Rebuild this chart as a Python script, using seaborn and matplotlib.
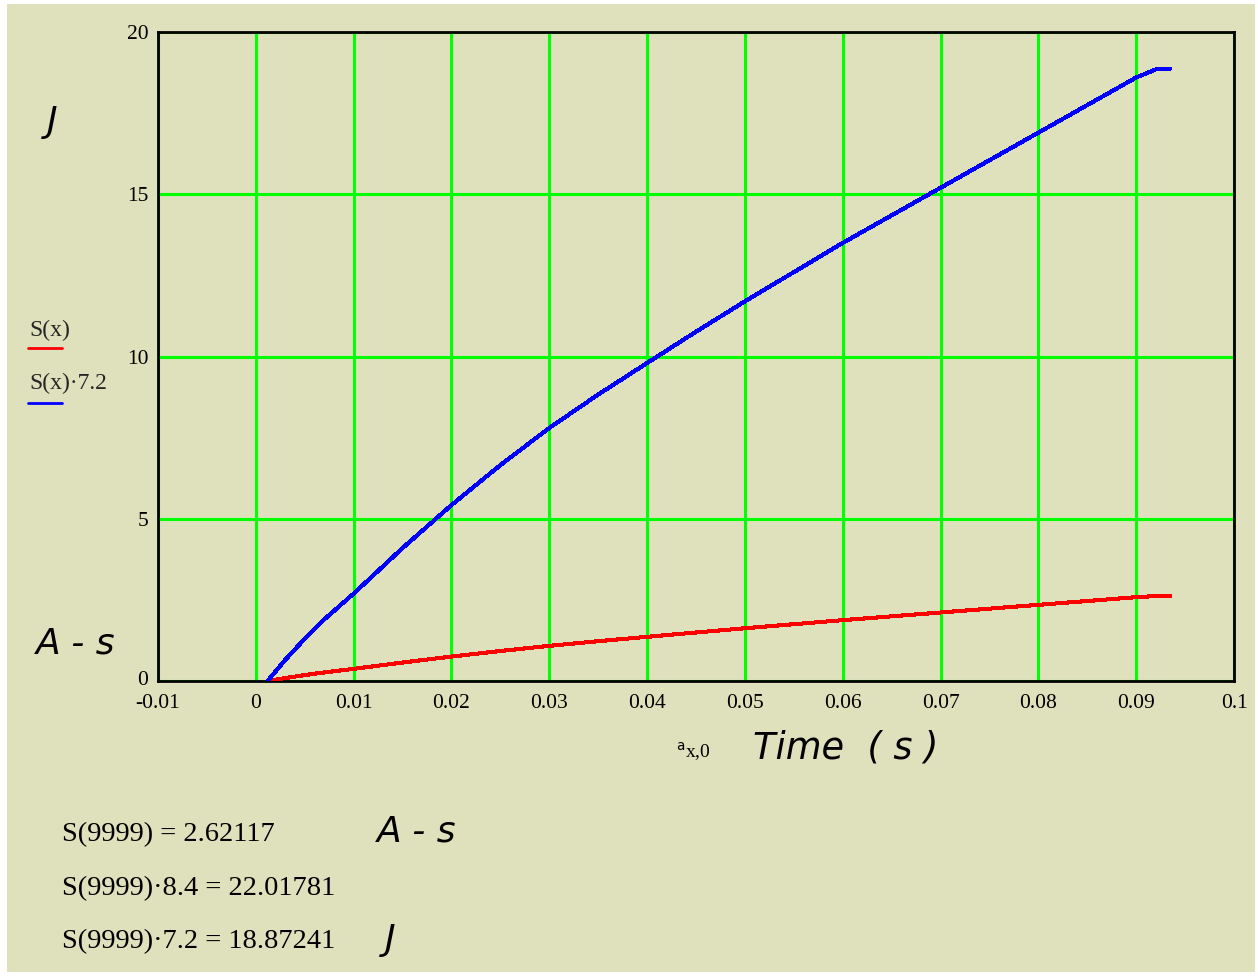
import numpy as np
import pandas as pd
import matplotlib
matplotlib.use("Agg")
import matplotlib.pyplot as plt
import matplotlib.transforms as mtransforms
from matplotlib.lines import Line2D
from matplotlib.patches import Rectangle
import seaborn as sns

# Integrated current S(t) in A-s, sampled along the time axis
time_s = [0.0012, 0.003, 0.005, 0.0066, 0.010, 0.015, 0.020, 0.025, 0.030,
          0.035, 0.040, 0.045, 0.050, 0.055, 0.060, 0.065, 0.070, 0.075,
          0.080, 0.085, 0.090, 0.0922, 0.0935]
s_vals = [0.0, 0.090, 0.181, 0.249, 0.374, 0.569, 0.753, 0.924, 1.083,
          1.226, 1.361, 1.495, 1.625, 1.750, 1.875, 1.993, 2.111, 2.229,
          2.347, 2.465, 2.583, 2.621, 2.621]
energy_factor = 7.2
x_ticks = [-0.01, 0, 0.01, 0.02, 0.03, 0.04, 0.05, 0.06, 0.07, 0.08, 0.09, 0.1]
x_tick_labels = ["-0.01", "0", "0.01", "0.02", "0.03", "0.04", "0.05", "0.06",
                 "0.07", "0.08", "0.09", "0.1"]
y_ticks = [0, 5, 10, 15, 20]
results = ["S(9999) = 2.62117", "S(9999)\u00b78.4 = 22.01781",
           "S(9999)\u00b77.2 = 18.87241"]

BG = "#DFE0BC"
df = pd.DataFrame({"t": time_s, "S": s_vals})
df["E"] = df["S"] * energy_factor

sns.set_style("white")
plt.rcParams["font.family"] = ["Liberation Serif", "DejaVu Serif"]

W, H = 1258, 976
fig = plt.figure(figsize=(W / 100, H / 100), dpi=100, facecolor="white")
fig.add_artist(Rectangle((7 / W, 4 / H), (1255 - 7) / W, (972 - 4) / H,
                         transform=fig.transFigure, facecolor=BG,
                         edgecolor="none", zorder=-10))

ax = fig.add_axes([158 / W, 1 - 681 / H, (1234 - 158) / W, (681 - 32) / H])
ax.set_facecolor(BG)

sns.lineplot(data=df, x="t", y="S", ax=ax, color="#FF0000", linewidth=2.2,
             antialiased=False, zorder=3)
sns.lineplot(data=df, x="t", y="E", ax=ax, color="#0000FF", linewidth=2.2,
             antialiased=False, zorder=3)

ax.set_xlim(-0.01, 0.1)
ax.set_ylim(0, 20)
ax.set_xticks(x_ticks)
ax.set_xticklabels(x_tick_labels)
ax.set_yticks(y_ticks)
ax.grid(True, color="#00FF00", linewidth=2.2)
ax.set_axisbelow(True)
for sp in ax.spines.values():
    sp.set_color("black")
    sp.set_linewidth(2)
    sp.set_visible(True)
ax.tick_params(length=0, labelsize=15.5, colors="black")
ax.tick_params(axis="x", pad=9)
ax.tick_params(axis="y", pad=7)
ax.set_xlabel("")
ax.set_ylabel("")

# lift the zero label on the y axis clear of the x labels
zero_lbl = ax.get_yticklabels()[0]
zero_lbl.set_transform(zero_lbl.get_transform() +
                       mtransforms.ScaledTranslation(0, 3 / 100,
                                                     fig.dpi_scale_trans))

# Axis units and legend
unit_font = dict(family=["DejaVu Sans"], style="italic", color="black")
fig.text(52 / W, 1 - 122 / H, "J", fontsize=26, ha="center", va="center",
         **unit_font)
fig.text(76 / W, 1 - 643 / H, "A - s", fontsize=26, ha="center", va="center",
         **unit_font)
fig.text(846 / W, 1 - 748 / H, "Time  ( s )", fontsize=26.5, ha="center",
         va="center", **unit_font)
fig.text(676 / W, 1 - 752 / H, r"$^{\mathrm{a}}$x,0", fontsize=14,
         ha="left", va="center", color="black")

fig.text(29 / W, 1 - 330 / H, "S(x)", fontsize=17, ha="left", va="center")
fig.add_artist(Line2D([28 / W, 62 / W], [1 - 348 / H, 1 - 348 / H],
                      transform=fig.transFigure, color="#FF0000", lw=2))
fig.text(29 / W, 1 - 383 / H, "S(x)\u00b77.2", fontsize=17, ha="left",
         va="center")
fig.add_artist(Line2D([28 / W, 62 / W], [1 - 403 / H, 1 - 403 / H],
                      transform=fig.transFigure, color="#0000FF", lw=2))

# Evaluated results below the chart
for i, line in enumerate(results):
    fig.text(62 / W, 1 - (835 + 53.5 * i) / H, line, fontsize=20.5,
             ha="left", va="center", color="black")
fig.text(417 / W, 1 - 832 / H, "A - s", fontsize=26, ha="center",
         va="center", **unit_font)
fig.text(390 / W, 1 - 940 / H, "J", fontsize=26, ha="center", va="center",
         **unit_font)

fig.savefig("out.png", dpi=100, facecolor="white")
